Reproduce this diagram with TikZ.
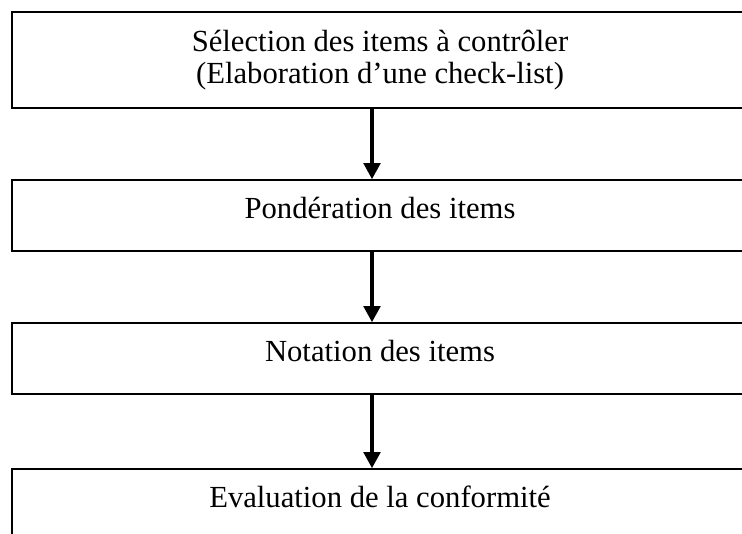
\documentclass[tikz,border=0pt]{standalone}
\usepackage{fontspec}
\setmainfont{Liberation Serif}
\usetikzlibrary{arrows.meta}

\begin{document}
\begin{tikzpicture}[x=0.75pt,y=-0.75pt,
  etape/.style={draw,line width=1.3pt,minimum width=552pt,inner sep=0pt,
    align=center,font=\fontsize{23}{24}\selectfont},
  ligne/.style={text height=0.75em,text depth=0.25em},
  flux/.style={line width=2.3pt,-{Triangle[length=12pt,width=12.5pt]}}]
  \useasboundingbox (0,0) rectangle (742,533);

  % boxes
  \node[etape,minimum height=72pt] (selection) at (380,60)
    {Sélection des items à contrôler\\(Elaboration d’une check-list)};
  \node[etape,ligne,minimum height=53.25pt] (ponderation) at (380,215.5)
    {Pondération des items};
  \node[etape,ligne,minimum height=53.25pt] (notation) at (380,358.5)
    {Notation des items};
  \node[etape,ligne,minimum height=53.25pt] (evaluation) at (380,504.5)
    {Evaluation de la conformité};

  % arrows
  \coordinate (axe) at (372,0);
  \draw[flux] (selection.south -| axe) -- (ponderation.north -| axe);
  \draw[flux] (ponderation.south -| axe) -- (notation.north -| axe);
  \draw[flux] (notation.south -| axe) -- (evaluation.north -| axe);

\end{tikzpicture}
\end{document}
